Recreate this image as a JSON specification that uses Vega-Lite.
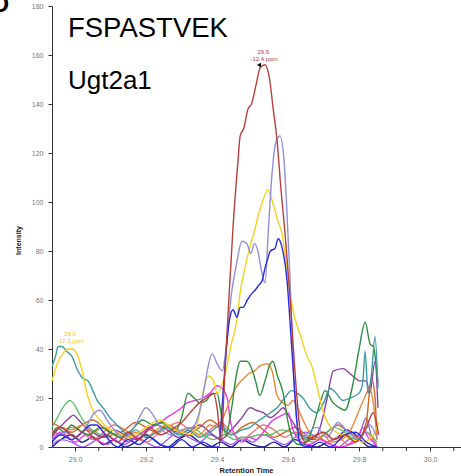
{
  "$schema": "https://vega.github.io/schema/vega-lite/v6.json",
  "width": 409,
  "height": 441,
  "autosize": "none",
  "padding": {"left": 52, "top": 6, "right": 0, "bottom": 29},
  "background": "white",
  "config": {"view": {"stroke": null}, "font": "Liberation Sans"},
  "datasets": {
    "minor": [{"t":29.0667},{"t":29.1333},{"t":29.2667},{"t":29.3333},{"t":29.4667},{"t":29.5333},{"t":29.6667},{"t":29.7333},{"t":29.8667},{"t":29.9333},{"t":30.0667}],
    "lines": [
      {"s":"a","t":28.935,"i":0},{"s":"a","t":28.96,"i":3},{"s":"a","t":28.99,"i":5},{"s":"a","t":29.02,"i":2},{"s":"a","t":29.05,"i":4},{"s":"a","t":29.08,"i":1},{"s":"a","t":29.11,"i":3},{"s":"a","t":29.14,"i":0},{"s":"a","t":29.17,"i":2},{"s":"a","t":29.2,"i":5},{"s":"a","t":29.23,"i":2},{"s":"a","t":29.26,"i":0},{"s":"a","t":29.29,"i":3},{"s":"a","t":29.32,"i":5},{"s":"a","t":29.35,"i":2},{"s":"a","t":29.38,"i":0},{"s":"a","t":29.41,"i":2},{"s":"a","t":29.44,"i":0},{"s":"a","t":29.47,"i":3},{"s":"a","t":29.5,"i":1},{"s":"a","t":29.53,"i":0},{"s":"a","t":29.56,"i":2},{"s":"a","t":29.59,"i":0},{"s":"a","t":29.62,"i":3},{"s":"a","t":29.65,"i":1},{"s":"a","t":29.68,"i":0},{"s":"a","t":29.71,"i":2},{"s":"a","t":29.74,"i":4},{"s":"a","t":29.765,"i":7},{"s":"a","t":29.79,"i":5},{"s":"a","t":29.81,"i":2},{"s":"a","t":29.83,"i":0},{"s":"a","t":29.85,"i":0},

      {"s":"b","t":28.935,"i":1},{"s":"b","t":28.96,"i":3},{"s":"b","t":28.99,"i":2},{"s":"b","t":29.02,"i":0},{"s":"b","t":29.05,"i":2},{"s":"b","t":29.08,"i":5},{"s":"b","t":29.11,"i":3},{"s":"b","t":29.14,"i":1},{"s":"b","t":29.17,"i":4},{"s":"b","t":29.2,"i":2},{"s":"b","t":29.23,"i":0},{"s":"b","t":29.26,"i":3},{"s":"b","t":29.29,"i":6},{"s":"b","t":29.32,"i":4},{"s":"b","t":29.35,"i":2},{"s":"b","t":29.38,"i":5},{"s":"b","t":29.41,"i":3},{"s":"b","t":29.44,"i":1},{"s":"b","t":29.47,"i":4},{"s":"b","t":29.5,"i":2},{"s":"b","t":29.53,"i":5},{"s":"b","t":29.56,"i":3},{"s":"b","t":29.59,"i":1},{"s":"b","t":29.62,"i":4},{"s":"b","t":29.65,"i":6},{"s":"b","t":29.68,"i":4},{"s":"b","t":29.71,"i":2},{"s":"b","t":29.74,"i":0},{"s":"b","t":29.77,"i":3},{"s":"b","t":29.8,"i":5},{"s":"b","t":29.82,"i":12},{"s":"b","t":29.835,"i":4},{"s":"b","t":29.85,"i":0},

      {"s":"c","t":28.935,"i":7},{"s":"c","t":28.96,"i":5},{"s":"c","t":28.99,"i":8},{"s":"c","t":29.02,"i":6},{"s":"c","t":29.05,"i":3},{"s":"c","t":29.08,"i":6},{"s":"c","t":29.11,"i":9},{"s":"c","t":29.14,"i":7},{"s":"c","t":29.17,"i":4},{"s":"c","t":29.2,"i":2},{"s":"c","t":29.23,"i":5},{"s":"c","t":29.26,"i":8},{"s":"c","t":29.29,"i":10},{"s":"c","t":29.32,"i":7},{"s":"c","t":29.35,"i":4},{"s":"c","t":29.38,"i":7},{"s":"c","t":29.41,"i":10},{"s":"c","t":29.44,"i":6},{"s":"c","t":29.47,"i":3},{"s":"c","t":29.5,"i":6},{"s":"c","t":29.53,"i":9},{"s":"c","t":29.56,"i":7},{"s":"c","t":29.59,"i":4},{"s":"c","t":29.62,"i":6},{"s":"c","t":29.65,"i":3},{"s":"c","t":29.68,"i":5},{"s":"c","t":29.71,"i":2},{"s":"c","t":29.74,"i":4},{"s":"c","t":29.77,"i":1},{"s":"c","t":29.8,"i":3},{"s":"c","t":29.82,"i":6},{"s":"c","t":29.84,"i":3},{"s":"c","t":29.85,"i":1},

      {"s":"d","t":28.935,"i":10},{"s":"d","t":28.96,"i":8},{"s":"d","t":28.99,"i":6},{"s":"d","t":29.02,"i":9},{"s":"d","t":29.05,"i":11},{"s":"d","t":29.08,"i":8},{"s":"d","t":29.11,"i":5},{"s":"d","t":29.14,"i":7},{"s":"d","t":29.17,"i":10},{"s":"d","t":29.2,"i":8},{"s":"d","t":29.23,"i":6},{"s":"d","t":29.26,"i":9},{"s":"d","t":29.29,"i":7},{"s":"d","t":29.32,"i":5},{"s":"d","t":29.35,"i":8},{"s":"d","t":29.38,"i":11},{"s":"d","t":29.41,"i":8},{"s":"d","t":29.44,"i":5},{"s":"d","t":29.47,"i":8},{"s":"d","t":29.5,"i":10},{"s":"d","t":29.53,"i":7},{"s":"d","t":29.56,"i":4},{"s":"d","t":29.59,"i":6},{"s":"d","t":29.62,"i":8},{"s":"d","t":29.65,"i":5},{"s":"d","t":29.68,"i":3},{"s":"d","t":29.71,"i":6},{"s":"d","t":29.74,"i":9},{"s":"d","t":29.77,"i":6},{"s":"d","t":29.8,"i":4},{"s":"d","t":29.82,"i":10},{"s":"d","t":29.835,"i":28},{"s":"d","t":29.845,"i":20},{"s":"d","t":29.85,"i":3},

      {"s":"e","t":28.935,"i":8},{"s":"e","t":28.95,"i":12},{"s":"e","t":28.97,"i":17},{"s":"e","t":28.985,"i":19},{"s":"e","t":28.995,"i":18},{"s":"e","t":29.01,"i":14},{"s":"e","t":29.022,"i":11},{"s":"e","t":29.04,"i":8},{"s":"e","t":29.06,"i":6},{"s":"e","t":29.09,"i":4},{"s":"e","t":29.12,"i":6},{"s":"e","t":29.15,"i":3},{"s":"e","t":29.18,"i":5},{"s":"e","t":29.21,"i":8},{"s":"e","t":29.24,"i":10},{"s":"e","t":29.27,"i":7},{"s":"e","t":29.3,"i":5},{"s":"e","t":29.33,"i":8},{"s":"e","t":29.36,"i":5},{"s":"e","t":29.39,"i":3},{"s":"e","t":29.42,"i":5},{"s":"e","t":29.45,"i":3},{"s":"e","t":29.47,"i":4},{"s":"e","t":29.49,"i":4},{"s":"e","t":29.52,"i":5},{"s":"e","t":29.55,"i":5},{"s":"e","t":29.58,"i":7},{"s":"e","t":29.61,"i":6},{"s":"e","t":29.64,"i":4},{"s":"e","t":29.67,"i":2},{"s":"e","t":29.7,"i":5},{"s":"e","t":29.73,"i":8},{"s":"e","t":29.76,"i":6},{"s":"e","t":29.79,"i":3},{"s":"e","t":29.82,"i":6},{"s":"e","t":29.85,"i":2},

      {"s":"f","t":28.935,"i":4},{"s":"f","t":28.95,"i":7},{"s":"f","t":28.97,"i":10},{"s":"f","t":28.985,"i":12},{"s":"f","t":28.995,"i":13},{"s":"f","t":29.01,"i":11},{"s":"f","t":29.03,"i":8},{"s":"f","t":29.05,"i":6},{"s":"f","t":29.08,"i":4},{"s":"f","t":29.11,"i":7},{"s":"f","t":29.14,"i":5},{"s":"f","t":29.17,"i":3},{"s":"f","t":29.2,"i":6},{"s":"f","t":29.23,"i":9},{"s":"f","t":29.26,"i":7},{"s":"f","t":29.29,"i":4},{"s":"f","t":29.32,"i":6},{"s":"f","t":29.35,"i":9},{"s":"f","t":29.38,"i":6},{"s":"f","t":29.41,"i":3},{"s":"f","t":29.44,"i":7},{"s":"f","t":29.47,"i":12},{"s":"f","t":29.493,"i":16},{"s":"f","t":29.51,"i":15},{"s":"f","t":29.53,"i":14},{"s":"f","t":29.55,"i":12},{"s":"f","t":29.57,"i":14},{"s":"f","t":29.586,"i":16},{"s":"f","t":29.6,"i":13},{"s":"f","t":29.614,"i":10},{"s":"f","t":29.63,"i":6},{"s":"f","t":29.65,"i":4},{"s":"f","t":29.67,"i":3},{"s":"f","t":29.69,"i":8},{"s":"f","t":29.71,"i":20},{"s":"f","t":29.727,"i":31},{"s":"f","t":29.755,"i":32},{"s":"f","t":29.774,"i":30},{"s":"f","t":29.79,"i":28},{"s":"f","t":29.8,"i":27},{"s":"f","t":29.82,"i":27},{"s":"f","t":29.83,"i":22},{"s":"f","t":29.845,"i":35},{"s":"f","t":29.853,"i":16},

      {"s":"g","t":28.935,"i":3},{"s":"g","t":28.96,"i":6},{"s":"g","t":28.98,"i":4},{"s":"g","t":29.0,"i":2},{"s":"g","t":29.03,"i":5},{"s":"g","t":29.06,"i":3},{"s":"g","t":29.09,"i":1},{"s":"g","t":29.12,"i":4},{"s":"g","t":29.15,"i":2},{"s":"g","t":29.18,"i":5},{"s":"g","t":29.21,"i":8},{"s":"g","t":29.24,"i":10},{"s":"g","t":29.258,"i":12},{"s":"g","t":29.28,"i":14},{"s":"g","t":29.3,"i":16},{"s":"g","t":29.315,"i":18},{"s":"g","t":29.34,"i":19},{"s":"g","t":29.36,"i":20},{"s":"g","t":29.38,"i":22},{"s":"g","t":29.4,"i":25},{"s":"g","t":29.414,"i":24},{"s":"g","t":29.43,"i":19},{"s":"g","t":29.436,"i":12},{"s":"g","t":29.45,"i":5},{"s":"g","t":29.47,"i":2},{"s":"g","t":29.49,"i":4},{"s":"g","t":29.51,"i":3},{"s":"g","t":29.53,"i":6},{"s":"g","t":29.55,"i":10},{"s":"g","t":29.57,"i":12},{"s":"g","t":29.583,"i":13},{"s":"g","t":29.6,"i":14},{"s":"g","t":29.614,"i":7},{"s":"g","t":29.63,"i":3},{"s":"g","t":29.66,"i":1},{"s":"g","t":29.69,"i":3},{"s":"g","t":29.72,"i":1},{"s":"g","t":29.75,"i":0},{"s":"g","t":29.78,"i":2},{"s":"g","t":29.8,"i":5},{"s":"g","t":29.81,"i":8},{"s":"g","t":29.825,"i":4},{"s":"g","t":29.84,"i":2},{"s":"g","t":29.85,"i":0},

      {"s":"h","t":28.935,"i":6},{"s":"h","t":28.96,"i":8},{"s":"h","t":28.99,"i":7},{"s":"h","t":29.02,"i":9},{"s":"h","t":29.05,"i":6},{"s":"h","t":29.08,"i":8},{"s":"h","t":29.11,"i":5},{"s":"h","t":29.14,"i":3},{"s":"h","t":29.17,"i":6},{"s":"h","t":29.2,"i":4},{"s":"h","t":29.23,"i":7},{"s":"h","t":29.26,"i":9},{"s":"h","t":29.29,"i":6},{"s":"h","t":29.32,"i":8},{"s":"h","t":29.35,"i":5},{"s":"h","t":29.38,"i":9},{"s":"h","t":29.4,"i":8},{"s":"h","t":29.42,"i":13},{"s":"h","t":29.436,"i":19},{"s":"h","t":29.456,"i":25},{"s":"h","t":29.475,"i":28},{"s":"h","t":29.49,"i":30},{"s":"h","t":29.505,"i":31},{"s":"h","t":29.52,"i":33},{"s":"h","t":29.54,"i":34},{"s":"h","t":29.555,"i":31},{"s":"h","t":29.569,"i":21},{"s":"h","t":29.586,"i":18},{"s":"h","t":29.6,"i":17},{"s":"h","t":29.614,"i":19},{"s":"h","t":29.63,"i":15},{"s":"h","t":29.642,"i":11},{"s":"h","t":29.66,"i":6},{"s":"h","t":29.68,"i":3},{"s":"h","t":29.7,"i":5},{"s":"h","t":29.72,"i":2},{"s":"h","t":29.75,"i":3},{"s":"h","t":29.78,"i":8},{"s":"h","t":29.8,"i":15},{"s":"h","t":29.815,"i":20},{"s":"h","t":29.83,"i":24},{"s":"h","t":29.84,"i":18},{"s":"h","t":29.85,"i":5},

      {"s":"i","t":28.935,"i":5},{"s":"i","t":28.95,"i":8},{"s":"i","t":28.97,"i":6},{"s":"i","t":28.99,"i":9},{"s":"i","t":29.01,"i":7},{"s":"i","t":29.04,"i":5},{"s":"i","t":29.07,"i":8},{"s":"i","t":29.1,"i":6},{"s":"i","t":29.13,"i":4},{"s":"i","t":29.16,"i":7},{"s":"i","t":29.19,"i":11},{"s":"i","t":29.22,"i":9},{"s":"i","t":29.25,"i":10},{"s":"i","t":29.28,"i":6},{"s":"i","t":29.3,"i":12},{"s":"i","t":29.318,"i":22},{"s":"i","t":29.335,"i":20},{"s":"i","t":29.352,"i":18},{"s":"i","t":29.37,"i":19},{"s":"i","t":29.38,"i":21},{"s":"i","t":29.4,"i":22},{"s":"i","t":29.41,"i":15},{"s":"i","t":29.425,"i":5},{"s":"i","t":29.44,"i":15},{"s":"i","t":29.455,"i":30},{"s":"i","t":29.465,"i":35},{"s":"i","t":29.484,"i":35},{"s":"i","t":29.5,"i":31},{"s":"i","t":29.51,"i":26},{"s":"i","t":29.52,"i":21},{"s":"i","t":29.535,"i":27},{"s":"i","t":29.55,"i":34},{"s":"i","t":29.557,"i":35},{"s":"i","t":29.57,"i":29},{"s":"i","t":29.586,"i":22},{"s":"i","t":29.6,"i":10},{"s":"i","t":29.614,"i":3},{"s":"i","t":29.63,"i":1},{"s":"i","t":29.65,"i":2},{"s":"i","t":29.67,"i":8},{"s":"i","t":29.69,"i":18},{"s":"i","t":29.704,"i":23},{"s":"i","t":29.727,"i":18},{"s":"i","t":29.745,"i":16},{"s":"i","t":29.76,"i":15},{"s":"i","t":29.783,"i":26},{"s":"i","t":29.8,"i":40},{"s":"i","t":29.817,"i":51},{"s":"i","t":29.831,"i":42},{"s":"i","t":29.84,"i":41},{"s":"i","t":29.853,"i":26},

      {"s":"j","t":28.935,"i":33},{"s":"j","t":28.945,"i":37},{"s":"j","t":28.952,"i":41},{"s":"j","t":28.963,"i":41},{"s":"j","t":28.977,"i":39},{"s":"j","t":28.991,"i":37},{"s":"j","t":29.008,"i":31},{"s":"j","t":29.022,"i":28},{"s":"j","t":29.036,"i":27},{"s":"j","t":29.05,"i":23},{"s":"j","t":29.062,"i":19},{"s":"j","t":29.079,"i":16},{"s":"j","t":29.098,"i":12},{"s":"j","t":29.118,"i":9},{"s":"j","t":29.132,"i":7},{"s":"j","t":29.15,"i":5},{"s":"j","t":29.17,"i":7},{"s":"j","t":29.2,"i":4},{"s":"j","t":29.23,"i":6},{"s":"j","t":29.26,"i":8},{"s":"j","t":29.29,"i":5},{"s":"j","t":29.32,"i":7},{"s":"j","t":29.35,"i":4},{"s":"j","t":29.38,"i":6},{"s":"j","t":29.41,"i":9},{"s":"j","t":29.44,"i":5},{"s":"j","t":29.47,"i":7},{"s":"j","t":29.493,"i":8},{"s":"j","t":29.51,"i":10},{"s":"j","t":29.53,"i":12},{"s":"j","t":29.55,"i":14},{"s":"j","t":29.569,"i":16},{"s":"j","t":29.59,"i":20},{"s":"j","t":29.61,"i":23},{"s":"j","t":29.625,"i":22},{"s":"j","t":29.642,"i":20},{"s":"j","t":29.66,"i":16},{"s":"j","t":29.68,"i":14},{"s":"j","t":29.7,"i":18},{"s":"j","t":29.718,"i":24},{"s":"j","t":29.735,"i":22},{"s":"j","t":29.755,"i":19},{"s":"j","t":29.775,"i":20},{"s":"j","t":29.8,"i":22},{"s":"j","t":29.81,"i":26},{"s":"j","t":29.817,"i":39},{"s":"j","t":29.825,"i":22},{"s":"j","t":29.835,"i":30},{"s":"j","t":29.845,"i":45},{"s":"j","t":29.853,"i":24},

      {"s":"k","t":28.935,"i":27},{"s":"k","t":28.95,"i":34},{"s":"k","t":28.965,"i":38},{"s":"k","t":28.98,"i":40},{"s":"k","t":28.992,"i":40},{"s":"k","t":29.005,"i":38},{"s":"k","t":29.02,"i":31},{"s":"k","t":29.035,"i":21},{"s":"k","t":29.05,"i":15},{"s":"k","t":29.07,"i":11},{"s":"k","t":29.09,"i":8},{"s":"k","t":29.12,"i":6},{"s":"k","t":29.15,"i":4},{"s":"k","t":29.18,"i":6},{"s":"k","t":29.21,"i":9},{"s":"k","t":29.24,"i":11},{"s":"k","t":29.27,"i":8},{"s":"k","t":29.3,"i":6},{"s":"k","t":29.33,"i":5},{"s":"k","t":29.345,"i":10},{"s":"k","t":29.36,"i":22},{"s":"k","t":29.375,"i":29},{"s":"k","t":29.39,"i":27},{"s":"k","t":29.4,"i":22},{"s":"k","t":29.42,"i":28},{"s":"k","t":29.44,"i":42},{"s":"k","t":29.456,"i":52},{"s":"k","t":29.465,"i":63},{"s":"k","t":29.48,"i":74},{"s":"k","t":29.493,"i":82},{"s":"k","t":29.505,"i":88},{"s":"k","t":29.515,"i":94},{"s":"k","t":29.53,"i":101},{"s":"k","t":29.543,"i":105},{"s":"k","t":29.552,"i":102},{"s":"k","t":29.56,"i":98},{"s":"k","t":29.572,"i":92},{"s":"k","t":29.583,"i":87},{"s":"k","t":29.595,"i":75},{"s":"k","t":29.605,"i":63},{"s":"k","t":29.62,"i":52},{"s":"k","t":29.634,"i":46},{"s":"k","t":29.653,"i":37},{"s":"k","t":29.667,"i":33},{"s":"k","t":29.684,"i":23},{"s":"k","t":29.7,"i":14},{"s":"k","t":29.72,"i":8},{"s":"k","t":29.75,"i":5},{"s":"k","t":29.78,"i":3},{"s":"k","t":29.81,"i":2},{"s":"k","t":29.84,"i":5},{"s":"k","t":29.855,"i":10},

      {"s":"l","t":28.935,"i":3},{"s":"l","t":28.97,"i":6},{"s":"l","t":29.0,"i":4},{"s":"l","t":29.03,"i":8},{"s":"l","t":29.055,"i":14},{"s":"l","t":29.07,"i":15},{"s":"l","t":29.09,"i":11},{"s":"l","t":29.11,"i":7},{"s":"l","t":29.14,"i":4},{"s":"l","t":29.17,"i":9},{"s":"l","t":29.2,"i":16},{"s":"l","t":29.22,"i":13},{"s":"l","t":29.24,"i":8},{"s":"l","t":29.27,"i":5},{"s":"l","t":29.3,"i":7},{"s":"l","t":29.33,"i":8},{"s":"l","t":29.35,"i":14},{"s":"l","t":29.365,"i":25},{"s":"l","t":29.375,"i":33},{"s":"l","t":29.386,"i":38},{"s":"l","t":29.4,"i":34},{"s":"l","t":29.415,"i":31},{"s":"l","t":29.425,"i":40},{"s":"l","t":29.44,"i":62},{"s":"l","t":29.455,"i":75},{"s":"l","t":29.47,"i":84},{"s":"l","t":29.484,"i":83},{"s":"l","t":29.495,"i":79},{"s":"l","t":29.505,"i":83},{"s":"l","t":29.515,"i":80},{"s":"l","t":29.525,"i":72},{"s":"l","t":29.535,"i":67},{"s":"l","t":29.545,"i":90},{"s":"l","t":29.555,"i":112},{"s":"l","t":29.565,"i":124},{"s":"l","t":29.577,"i":127},{"s":"l","t":29.588,"i":118},{"s":"l","t":29.597,"i":95},{"s":"l","t":29.605,"i":70},{"s":"l","t":29.613,"i":40},{"s":"l","t":29.622,"i":15},{"s":"l","t":29.632,"i":3},{"s":"l","t":29.65,"i":5},{"s":"l","t":29.68,"i":8},{"s":"l","t":29.71,"i":4},{"s":"l","t":29.74,"i":10},{"s":"l","t":29.77,"i":6},{"s":"l","t":29.8,"i":3},{"s":"l","t":29.83,"i":9},{"s":"l","t":29.85,"i":4},

      {"s":"m","t":28.935,"i":2},{"s":"m","t":28.96,"i":5},{"s":"m","t":28.99,"i":3},{"s":"m","t":29.02,"i":6},{"s":"m","t":29.045,"i":9},{"s":"m","t":29.06,"i":9},{"s":"m","t":29.08,"i":6},{"s":"m","t":29.1,"i":2},{"s":"m","t":29.12,"i":0},{"s":"m","t":29.15,"i":3},{"s":"m","t":29.18,"i":1},{"s":"m","t":29.21,"i":4},{"s":"m","t":29.24,"i":1},{"s":"m","t":29.27,"i":0},{"s":"m","t":29.3,"i":3},{"s":"m","t":29.33,"i":0},{"s":"m","t":29.36,"i":2},{"s":"m","t":29.39,"i":0},{"s":"m","t":29.405,"i":0},{"s":"m","t":29.415,"i":18},{"s":"m","t":29.425,"i":38},{"s":"m","t":29.435,"i":52},{"s":"m","t":29.445,"i":56},{"s":"m","t":29.456,"i":53},{"s":"m","t":29.465,"i":57},{"s":"m","t":29.473,"i":57},{"s":"m","t":29.485,"i":60},{"s":"m","t":29.5,"i":63},{"s":"m","t":29.507,"i":64},{"s":"m","t":29.517,"i":66},{"s":"m","t":29.527,"i":68},{"s":"m","t":29.535,"i":73},{"s":"m","t":29.543,"i":77},{"s":"m","t":29.55,"i":80},{"s":"m","t":29.563,"i":81},{"s":"m","t":29.572,"i":85},{"s":"m","t":29.58,"i":83},{"s":"m","t":29.588,"i":78},{"s":"m","t":29.597,"i":68},{"s":"m","t":29.605,"i":52},{"s":"m","t":29.615,"i":30},{"s":"m","t":29.625,"i":10},{"s":"m","t":29.635,"i":1},{"s":"m","t":29.66,"i":0},{"s":"m","t":29.69,"i":2},{"s":"m","t":29.72,"i":0},{"s":"m","t":29.76,"i":5},{"s":"m","t":29.79,"i":6},{"s":"m","t":29.82,"i":2},{"s":"m","t":29.85,"i":0},

      {"s":"n","t":28.935,"i":5},{"s":"n","t":28.96,"i":8},{"s":"n","t":28.98,"i":6},{"s":"n","t":29.0,"i":4},{"s":"n","t":29.03,"i":7},{"s":"n","t":29.06,"i":3},{"s":"n","t":29.09,"i":5},{"s":"n","t":29.12,"i":2},{"s":"n","t":29.15,"i":6},{"s":"n","t":29.18,"i":3},{"s":"n","t":29.21,"i":8},{"s":"n","t":29.24,"i":5},{"s":"n","t":29.27,"i":7},{"s":"n","t":29.3,"i":10},{"s":"n","t":29.33,"i":15},{"s":"n","t":29.35,"i":18},{"s":"n","t":29.37,"i":20},{"s":"n","t":29.39,"i":22},{"s":"n","t":29.4,"i":16},{"s":"n","t":29.412,"i":2},{"s":"n","t":29.42,"i":25},{"s":"n","t":29.43,"i":52},{"s":"n","t":29.445,"i":90},{"s":"n","t":29.459,"i":117},{"s":"n","t":29.465,"i":127},{"s":"n","t":29.475,"i":130},{"s":"n","t":29.487,"i":138},{"s":"n","t":29.497,"i":140},{"s":"n","t":29.51,"i":148},{"s":"n","t":29.522,"i":155},{"s":"n","t":29.535,"i":156},{"s":"n","t":29.548,"i":150},{"s":"n","t":29.558,"i":138},{"s":"n","t":29.569,"i":125},{"s":"n","t":29.58,"i":105},{"s":"n","t":29.591,"i":88},{"s":"n","t":29.605,"i":62},{"s":"n","t":29.615,"i":40},{"s":"n","t":29.625,"i":20},{"s":"n","t":29.635,"i":6},{"s":"n","t":29.65,"i":2},{"s":"n","t":29.67,"i":4},{"s":"n","t":29.7,"i":6},{"s":"n","t":29.73,"i":3},{"s":"n","t":29.76,"i":5},{"s":"n","t":29.79,"i":2},{"s":"n","t":29.82,"i":8},{"s":"n","t":29.84,"i":14},{"s":"n","t":29.855,"i":5}
    ]
  },
  "layer": [
    {
      "data": {"name": "lines"},
      "mark": {"type": "line", "interpolate": "monotone", "strokeWidth": 1.4, "clip": true},
      "encoding": {
        "x": {
          "field": "t", "type": "quantitative",
          "scale": {"domain": [28.935, 30.087], "nice": false, "zero": false},
          "axis": {
            "title": "Retention Time",
            "values": [29.0, 29.2, 29.4, 29.6, 29.8, 30.0],
            "format": ".1f",
            "labelOverlap": false, "labelFlush": false,
            "grid": false, "domainColor": "#333333", "tickColor": "#333333", "tickSize": 4,
            "labelColor": "#777777", "labelFontSize": 7, "labelPadding": 4,
            "titleFontSize": 7.5, "titleFontWeight": "bold", "titleColor": "#222222",
            "titleX": 194, "titleY": 23, "titleBaseline": "middle"
          }
        },
        "y": {
          "field": "i", "type": "quantitative",
          "scale": {"domain": [0, 180], "nice": false},
          "axis": {
            "title": "Intensity",
            "values": [0,5,10,15,20,25,30,35,40,45,50,55,60,65,70,75,80,85,90,95,100,105,110,115,120,125,130,135,140,145,150,155,160,165,170,175,180],
            "labelExpr": "datum.value % 20 == 0 ? datum.label : ''",
            "labelOverlap": false, "labelFlush": false,
            "grid": false, "domainColor": "#333333", "tickColor": "#333333", "tickSize": 4,
            "labelColor": "#777777", "labelFontSize": 7, "labelPadding": 5,
            "titleFontSize": 7, "titleFontWeight": "bold", "titleColor": "#222222",
            "titleX": -34, "titleY": 234, "titleBaseline": "middle", "titleAlign": "center"
          }
        },
        "color": {
          "field": "s", "type": "nominal", "legend": null,
          "scale": {
            "domain": ["a","b","c","d","e","f","g","h","i","j","k","l","m","n"],
            "range": ["#1c1c8c","#a060f0","#f07878","#c86a2c","#62c06c","#8e3fa0","#e83be8","#e8883a","#2f8f3f","#3f9ca0","#f5d220","#9090d8","#2a2ae0","#b5403e"]
          }
        }
      }
    },
    {
      "data": {"name": "minor"},
      "mark": {"type": "rule", "color": "#333333", "strokeWidth": 1},
      "encoding": {
        "x": {"field": "t", "type": "quantitative"},
        "y": {"datum": 0},
        "y2": {"datum": -1.63}
      }
    },
    {
      "data": {"values": [{"t": 29.518, "i": 155.9}]},
      "mark": {"type": "point", "shape": "triangle-left", "filled": true, "color": "black", "size": 22, "opacity": 1},
      "encoding": {"x": {"field": "t", "type": "quantitative"}, "y": {"field": "i", "type": "quantitative"}}
    },
    {
      "data": {"values": [{"t": 29.53, "i": 161.2, "label": "29.5"}, {"t": 29.532, "i": 158.4, "label": "-12.4 ppm"}]},
      "mark": {"type": "text", "fontSize": 6, "color": "#b5403e", "align": "center", "baseline": "middle"},
      "encoding": {"x": {"field": "t", "type": "quantitative"}, "y": {"field": "i", "type": "quantitative"}, "text": {"field": "label"}}
    },
    {
      "data": {"values": [{"t": 28.986, "i": 46.1, "label": "29.0"}, {"t": 28.987, "i": 43.4, "label": "-17.3 ppm"}]},
      "mark": {"type": "text", "fontSize": 6, "color": "#f5c518", "align": "center", "baseline": "middle"},
      "encoding": {"x": {"field": "t", "type": "quantitative"}, "y": {"field": "i", "type": "quantitative"}, "text": {"field": "label"}}
    },
    {
      "data": {"values": [{"t": 28.98, "i": 167.3, "label": "FSPASTVEK"}]},
      "mark": {"type": "text", "fontSize": 27.5, "font": "Liberation Sans", "color": "black", "align": "left", "baseline": "alphabetic"},
      "encoding": {"x": {"field": "t", "type": "quantitative"}, "y": {"field": "i", "type": "quantitative"}, "text": {"field": "label"}}
    },
    {
      "data": {"values": [{"t": 28.98, "i": 146.1, "label": "Ugt2a1"}]},
      "mark": {"type": "text", "fontSize": 26, "font": "Liberation Sans", "color": "black", "align": "left", "baseline": "alphabetic"},
      "encoding": {"x": {"field": "t", "type": "quantitative"}, "y": {"field": "i", "type": "quantitative"}, "text": {"field": "label"}}
    },
    {
      "data": {"values": [{"t": 28.814, "i": 177.6, "label": "D"}]},
      "mark": {"type": "text", "fontSize": 24, "fontWeight": "bold", "font": "Liberation Sans", "color": "black", "align": "right", "baseline": "alphabetic"},
      "encoding": {"x": {"field": "t", "type": "quantitative"}, "y": {"field": "i", "type": "quantitative"}, "text": {"field": "label"}}
    }
  ]
}
